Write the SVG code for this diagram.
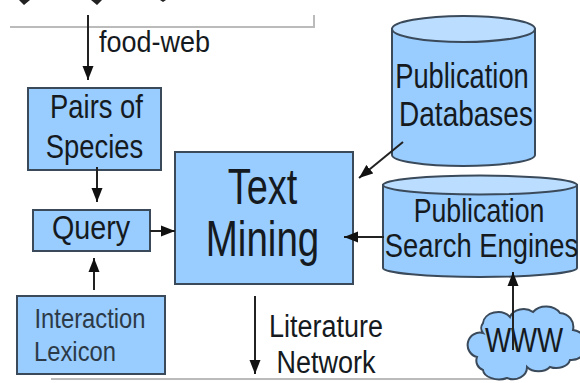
<svg xmlns="http://www.w3.org/2000/svg" width="580" height="383" viewBox="0 0 580 383">
<defs>
<marker id="a" markerUnits="userSpaceOnUse" markerWidth="14" markerHeight="12" refX="14" refY="6" orient="auto"><path d="M0 .5L14 6L0 11.500Z" fill="#111"/></marker>
</defs>
<style>
.n{fill:#99ccff;stroke:#3a4a5a;stroke-width:2}
.l{fill:#bbddff;stroke:#3a4a5a;stroke-width:2}
.t{font-family:"Liberation Sans",Arial,sans-serif;fill:#151a20;text-anchor:middle}
.s{fill:#2c3a48}
.c{fill:none;stroke:#222;stroke-width:2}
.g{fill:none;stroke:#bbb;stroke-width:2}
</style>
<rect width="580" height="383" fill="#fff"/>
<g id="frame"><path class="g" d="M10 27H314V15"/><path class="g" d="M52 380V379H506"/>
<path d="M19 0H30L24 5ZM91 0H102L97 5ZM160 0H166L163 2Z" fill="#222"/></g>
<g id="pairs"><rect class="n" x="28" y="88" width="133" height="82"/><text class="t" font-size="33" transform="translate(96.500 118) scale(.83 1)">Pairs of</text><text class="t" font-size="33" transform="translate(94.500 158) scale(.83 1)">Species</text></g>
<g id="query"><rect class="n" x="33" y="210" width="117" height="41"/><text class="t" font-size="33" transform="translate(91 239) scale(.87 1)">Query</text></g>
<g id="lexicon"><rect class="n" x="17" y="296" width="148" height="78"/><text class="t s" font-size="28" transform="translate(90 328) scale(.85 1)">Interaction</text><text class="t s" font-size="28" transform="translate(75 361) scale(.85 1)">Lexicon</text></g>
<g id="mining"><rect class="n" x="175" y="152" width="178" height="132"/><text class="t" font-size="50" transform="translate(262.500 204) scale(.76 1)">Text</text><text class="t" font-size="50" transform="translate(262.500 256) scale(.77 1)">Mining</text></g>
<g id="databases"><path class="n" d="M392 29V155A71.500 11 0 0 0 535 155V29Z"/><ellipse class="l" cx="463.500" cy="29" rx="71.500" ry="13"/><text class="t" font-size="35" transform="translate(462 88) scale(.78 1)">Publication</text><text class="t" font-size="35" transform="translate(466 126) scale(.8 1)">Databases</text></g>
<g id="engines"><path class="n" d="M383 185V268A97 9 0 0 0 577 268V185Z"/><ellipse class="l" cx="480" cy="185" rx="97" ry="9.500"/><text class="t" font-size="33" transform="translate(479 222) scale(.81 1)">Publication</text><text class="t" font-size="33" transform="translate(481.500 257) scale(.83 1)">Search Engines</text></g>
<g id="www"><path d="M483 323A15 12 0 0 1 510 317A14 11 0 0 1 533 312A16 13 0 0 1 560 313A14 14 0 0 1 573 330A10 10 0 0 1 570 360A14 10 0 0 1 550 367A14 10 0 0 1 527 367A14 12 0 0 1 507 378A16 10 0 0 1 483 370A10 10 0 0 1 477 357A9 9 0 0 1 483 333A8 8 0 0 1 483 323Z" class="n"/><text class="t" font-size="35" transform="translate(524 352) scale(.79 1)">WWW</text></g>
<g id="labels"><text class="t" font-size="30" transform="translate(154.500 52) scale(.9 1)">food-web</text><text class="t" font-size="31" transform="translate(326 337) scale(.87 1)">Literature</text><text class="t" font-size="31" transform="translate(326 373) scale(.87 1)">Network</text></g>
<g id="connectors">
<path class="c" d="M88 15V80" marker-end="url(#a)"/>
<path class="c" d="M97 167V202" marker-end="url(#a)"/>
<path class="c" d="M94 290V258" marker-end="url(#a)"/>
<path class="c" d="M150 231H175" marker-end="url(#a)"/>
<path class="c" d="M403 142L359 178" marker-end="url(#a)"/>
<path class="c" d="M384 237H344" marker-end="url(#a)"/>
<path class="c" d="M255 296V374" marker-end="url(#a)"/>
<path class="c" d="M513 350V272" marker-end="url(#a)"/>
</g>
</svg>
